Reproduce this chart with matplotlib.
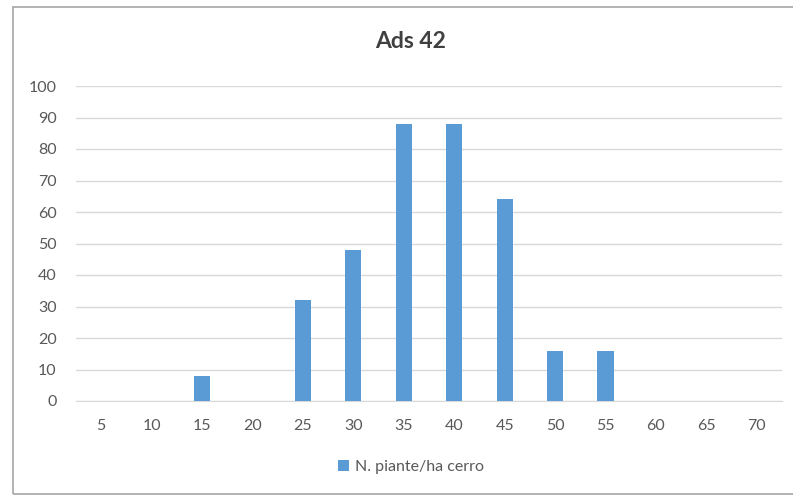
import matplotlib.pyplot as plt
from matplotlib.patches import Rectangle

classi = ['5', '10', '15', '20', '25', '30', '35', '40', '45', '50', '55', '60', '65', '70']
piante = [0, 0, 8, 0, 32, 48, 88, 88, 64, 16, 16, 0, 0, 0]

plt.rcParams['font.family'] = ['Lato', 'DejaVu Sans']

fig = plt.figure(figsize=(7.93, 4.96), dpi=100)
W, H = 793, 496
ax = fig.add_axes([76 / W, 1 - 401 / H, (782 - 76) / W, (401 - 86) / H])

x = range(len(classi))
ax.bar(x, piante, width=0.32, color='#5b9bd5', label='N. piante/ha cerro', zorder=3)

ax.set_xlim(-0.5, len(classi) - 0.5)
ax.set_ylim(0, 100)
ax.set_yticks(range(0, 101, 10))
ax.set_xticks(list(x))
ax.set_xticklabels(classi)
ax.grid(axis='y', color='#d9d9d9', linewidth=1, zorder=0)
for s in ['top', 'right', 'left']:
    ax.spines[s].set_visible(False)
ax.spines['bottom'].set_color('#d9d9d9')
ax.tick_params(length=0, labelsize=11.5, colors='#595959')
ax.tick_params(axis='x', pad=13)
ax.tick_params(axis='y', pad=14)

fig.text(411 / W, 1 - 42 / H, 'Ads 42', ha='center', va='center', fontsize=16.5,
         fontweight='bold', color='#404040')
fig.legend(loc='center', bbox_to_anchor=(411 / W, 1 - 467 / H), frameon=False, fontsize=11.5,
           handlelength=0.7, handleheight=0.7, handletextpad=0.4, labelcolor='#595959')

fig.add_artist(Rectangle((13 / W, 1 - 494 / H), 1.0, (494 - 7) / H, transform=fig.transFigure,
                         fill=False, edgecolor='#a6a6a6', linewidth=1.2))

fig.savefig('out.png', dpi=100)
